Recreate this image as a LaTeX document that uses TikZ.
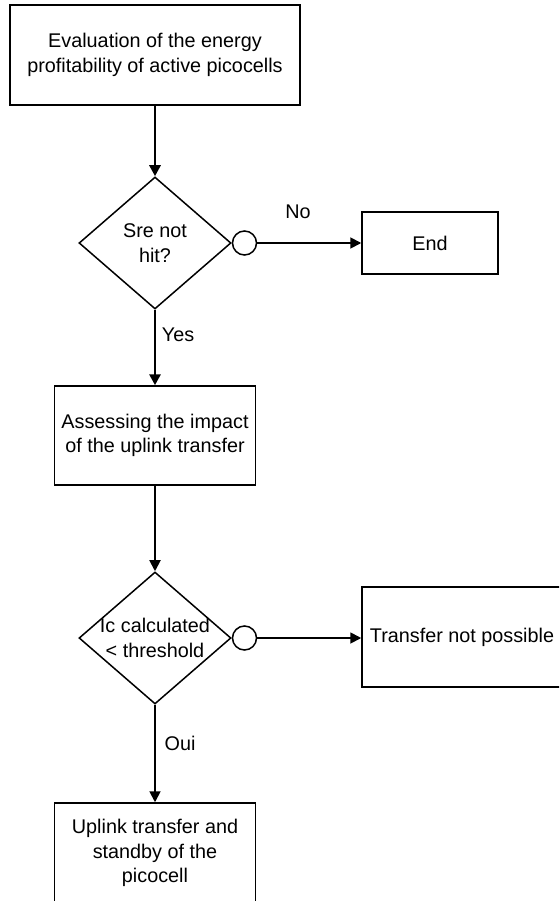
\documentclass[tikz,border=0pt]{standalone}
\usepackage{fontspec}
\setmainfont{Liberation Sans}
\usetikzlibrary{arrows.meta}
\usetikzlibrary{shapes.geometric}
\usetikzlibrary{positioning}

\begin{document}
\begin{tikzpicture}[x=1pt,y=-1pt,>={Triangle[length=11pt,width=11pt]},
  font=\fontsize{19.8}{24.5}\selectfont,
  box/.style={draw,line width=1.5pt,align=center,inner sep=0pt},
  test/.style={draw,diamond,line width=1.5pt,align=center,inner sep=-7pt,
    minimum width=152pt,minimum height=132pt},
  ring/.style={draw,circle,line width=1.5pt,minimum size=24pt,inner sep=0pt},
  flow/.style={->,line width=1.8pt},
  mainflow/.style={->,line width=2.8pt}]
  \useasboundingbox (0,0) rectangle (559,901);
  \clip (0,0) rectangle (559,901);

  % boxes
  \node[box,minimum width=290pt,minimum height=100pt] (eval) at (155,55)
    {Evaluation of the energy\\profitability of active picocells};
  \node[test] (sre) at (155,243) {Sre not\\hit?};
  \node[ring,right=0pt of sre] (ringsre) {};
  \node[box,minimum width=136pt,minimum height=62pt] (endbox) at (430,243) {End};
  \node[box,minimum width=201pt,minimum height=99pt] (assess) at (155,435.5)
    {Assessing the impact\\of the uplink transfer};
  \node[test] (ic) at (155,638) {Ic calculated\\< threshold};
  \node[ring,right=0pt of ic] (ringic) {};
  \node[box,minimum width=200pt,minimum height=100pt] (nopossible) at (462,637)
    {Transfer not possible};
  \node[box,minimum width=201pt,minimum height=100pt] (standby) at (155,853)
    {Uplink transfer and\\standby of the\\picocell};

  % labels
  \node (no) at (298,212) {No};
  \node (yes) at (178,335) {Yes};
  \node (oui) at (180,743) {Oui};

  % connectors
  \draw[mainflow] (eval) -- (sre);
  \draw[flow] (ringsre) -- (endbox);
  \draw[mainflow] (sre) -- (assess);
  \draw[flow] (assess) -- (ic);
  \draw[flow] (ringic) -- (ringic -| nopossible.west);
  \draw[flow] (ic) -- (standby);
\end{tikzpicture}
\end{document}
